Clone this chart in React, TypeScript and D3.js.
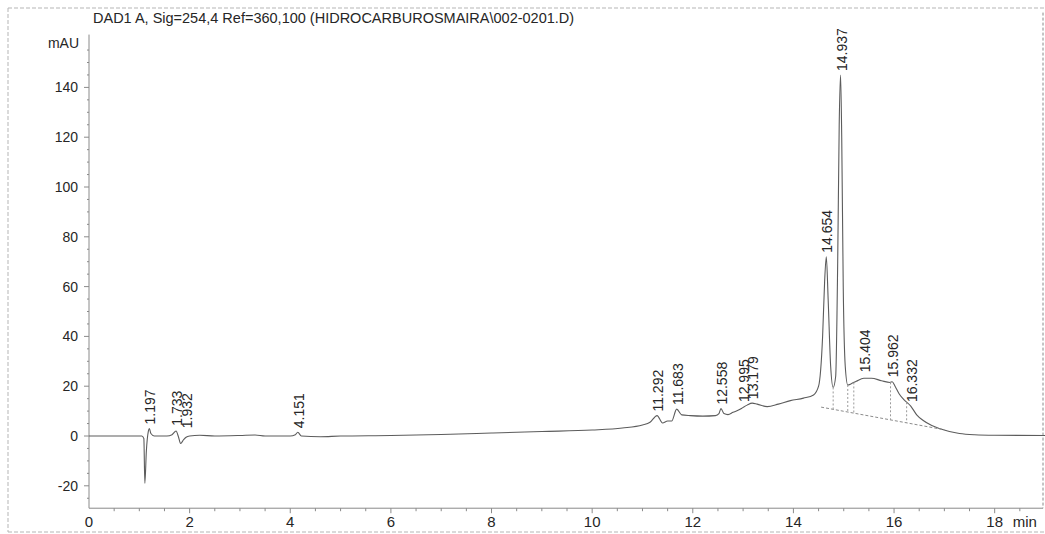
import React, { useEffect, useRef } from 'react';
import * as d3 from 'd3';

// chromatogram trace (min, mAU)
const traceTime = [
  0, 1.05, 1.09, 1.11, 1.14, 1.18, 1.2, 1.23, 1.3, 1.55, 1.65, 1.73, 1.78, 1.82, 1.88, 1.93,
  2.0, 2.2, 2.5, 3.0, 3.3, 3.5, 4.0, 4.1, 4.15, 4.22, 4.6, 5.0, 6.0, 7.0, 8.0, 9.0, 10.0,
  10.6, 11.0, 11.15, 11.29, 11.4, 11.5, 11.58, 11.68, 11.78, 11.95, 12.2, 12.45, 12.52,
  12.56, 12.62, 12.7, 12.8, 12.92, 13.0, 13.08, 13.18, 13.28, 13.48, 13.7, 13.94, 14.2,
  14.4, 14.5, 14.58, 14.62, 14.654, 14.69, 14.74, 14.79, 14.84, 14.88, 14.91, 14.937,
  14.96, 14.99, 15.03, 15.08, 15.15, 15.25, 15.4, 15.55, 15.75, 15.92, 15.962, 16.02,
  16.1, 16.2, 16.332, 16.45, 16.58, 16.75, 16.9, 17.1, 17.3, 17.6, 18.0, 19.0,
];
const traceValue = [
  0, 0, -1, -19, -6, 2, 3, 1, 0, 0, 0.5, 2, -0.5, -3, -1.5, -0.5,
  0, 0.3, 0, 0.2, 0.4, 0, 0, 0.5, 1.5, 0, -0.3, 0, 0.2, 0.6, 1.2, 1.8, 2.4,
  3.2, 4.4, 5.5, 8.2, 5.2, 6, 6, 10.8, 8.5, 8.2, 8, 8.2, 9,
  11, 9, 8.6, 9.5, 10.5, 11.5, 12.4, 13.2, 12.8, 11.8, 12.8, 14.2, 15.2,
  16.5, 20, 40, 62, 72, 55, 28, 19.5, 24, 70, 125, 145,
  120, 60, 28, 20.5, 21, 22, 23.2, 23.2, 22.2, 21.5, 21.8, 20,
  17, 14.5, 12, 8.5, 6.2, 4.2, 3, 1.8, 1.0, 0.5, 0.3, 0.2,
];

// retention times labelled on the peaks
const peakTimes = [1.197, 1.733, 1.932, 4.151, 11.292, 11.683, 12.558, 12.995, 13.179,
  14.654, 14.937, 15.404, 15.962, 16.332];
const peakLabels = ['1.197', '1.733', '1.932', '4.151', '11.292', '11.683', '12.558', '12.995',
  '13.179', '14.654', '14.937', '15.404', '15.962', '16.332'];
const peakLabelHeight = [3, 2.5, 1.5, 1.5, 8.2, 10.8, 11, 12, 13.2, 72, 145, 24, 22, 12];

// integration baseline under the large cluster
const baseTime = [14.55, 17.0];
const baseValue = [11.6, 2.5];
const dropTimes = [14.79, 15.08, 15.2, 15.93, 16.25];

const xTicks = [0, 2, 4, 6, 8, 10, 12, 14, 16, 18];
const yTicks = [-20, 0, 20, 40, 60, 80, 100, 120, 140];

const title = 'DAD1 A, Sig=254,4 Ref=360,100 (HIDROCARBUROSMAIRA\\002-0201.D)';

const W = 1045;
const H = 534;

const App = () => {
  const ref = useRef<SVGSVGElement>(null);

  useEffect(() => {
    const svg = d3.select(ref.current);
    svg.selectAll('*').remove();
    const font = '"Liberation Sans", Arial, sans-serif';
    const ink = '#262626';

    const x = d3.scaleLinear().domain([0, 19]).range([89, 1045]);
    const y = d3.scaleLinear().domain([-20, 140]).range([485.8, 87.4]);
    const yBot = y(-29);
    const yTop = y(158);

    // scanned page frame
    const frame = svg.append('g').attr('stroke', '#b5b5b5').attr('stroke-dasharray', '4,2').attr('fill', 'none');
    frame.append('line').attr('x1', 8).attr('x2', W).attr('y1', 8).attr('y2', 8);
    frame.append('line').attr('x1', 8).attr('x2', 8).attr('y1', 8).attr('y2', H - 2);
    frame.append('line').attr('x1', 8).attr('x2', W).attr('y1', H - 2).attr('y2', H - 2);

    svg.append('text')
      .attr('x', 93).attr('y', 23)
      .attr('font-family', font).attr('font-size', 14.5).attr('fill', ink)
      .text(title);

    // axes
    const ax = svg.append('g').attr('stroke', '#8a8a8a').attr('stroke-width', 1);
    ax.append('line').attr('x1', x(0)).attr('x2', x(0)).attr('y1', yTop - 8).attr('y2', yBot);
    ax.append('line').attr('x1', x(0)).attr('x2', x(19) - 2).attr('y1', yBot).attr('y2', yBot);
    ax.append('line').attr('x1', x(19) - 2).attr('x2', x(19) - 2).attr('y1', yTop - 30).attr('y2', yBot)
      .attr('stroke-dasharray', '3,2');

    d3.range(-25, 160, 5).forEach(v => {
      const major = v % 20 === 0;
      ax.append('line').attr('x1', x(0) - (major ? 5 : 2)).attr('x2', x(0))
        .attr('y1', y(v)).attr('y2', y(v));
    });
    d3.range(0.5, 19, 0.5).forEach(t => {
      const major = t % 2 === 0;
      ax.append('line').attr('x1', x(t)).attr('x2', x(t))
        .attr('y1', yBot).attr('y2', yBot + (major ? 5 : 3));
    });

    svg.append('g').selectAll('text').data(yTicks).join('text')
      .attr('x', 78).attr('y', d => y(d) + 5)
      .attr('text-anchor', 'end')
      .attr('font-family', font).attr('font-size', 14).attr('fill', ink)
      .text(d => String(d));
    svg.append('text').attr('x', 79).attr('y', y(158) + 5).attr('text-anchor', 'end')
      .attr('font-family', font).attr('font-size', 14).attr('fill', ink).text('mAU');

    svg.append('g').selectAll('text').data(xTicks).join('text')
      .attr('x', d => x(d)).attr('y', yBot + 19)
      .attr('text-anchor', 'middle')
      .attr('font-family', font).attr('font-size', 15).attr('fill', ink)
      .text(d => String(d));
    svg.append('text').attr('x', x(18.6)).attr('y', yBot + 19)
      .attr('text-anchor', 'middle')
      .attr('font-family', font).attr('font-size', 15).attr('fill', ink).text('min');

    // signal
    const pts = traceTime.map((t, i) => [t, traceValue[i]] as [number, number]);
    const line = d3.line<[number, number]>().x(d => x(d[0])).y(d => y(d[1])).curve(d3.curveMonotoneX);
    svg.append('path').datum(pts)
      .attr('fill', 'none').attr('stroke', '#5c5c5c').attr('stroke-width', 1.1)
      .attr('d', line);

    // baseline + drop lines
    const baseAt = d3.scaleLinear().domain(baseTime).range(baseValue);
    const traceAt = d3.scaleLinear().domain(traceTime).range(traceValue);
    svg.append('line')
      .attr('x1', x(baseTime[0])).attr('y1', y(baseValue[0]))
      .attr('x2', x(baseTime[1])).attr('y2', y(baseValue[1]))
      .attr('stroke', '#8c8c8c').attr('stroke-dasharray', '3,2');
    svg.append('g').selectAll('line').data(dropTimes).join('line')
      .attr('x1', d => x(d)).attr('x2', d => x(d))
      .attr('y1', d => y(traceAt(d))).attr('y2', d => y(baseAt(d)))
      .attr('stroke', '#9a9a9a').attr('stroke-dasharray', '2,2');

    // retention time labels
    svg.append('g').selectAll('text').data(peakTimes).join('text')
      .attr('transform', (d, i) => `translate(${x(d) + 6},${y(peakLabelHeight[i]) - 4}) rotate(-90)`)
      .attr('font-family', font).attr('font-size', 14).attr('fill', ink)
      .text((d, i) => peakLabels[i]);
  }, []);

  return (
    <svg ref={ref} width={W} height={H}
      style={{ position: 'absolute', left: 0, top: 0, background: '#fff' }} />
  );
};

export default App;
